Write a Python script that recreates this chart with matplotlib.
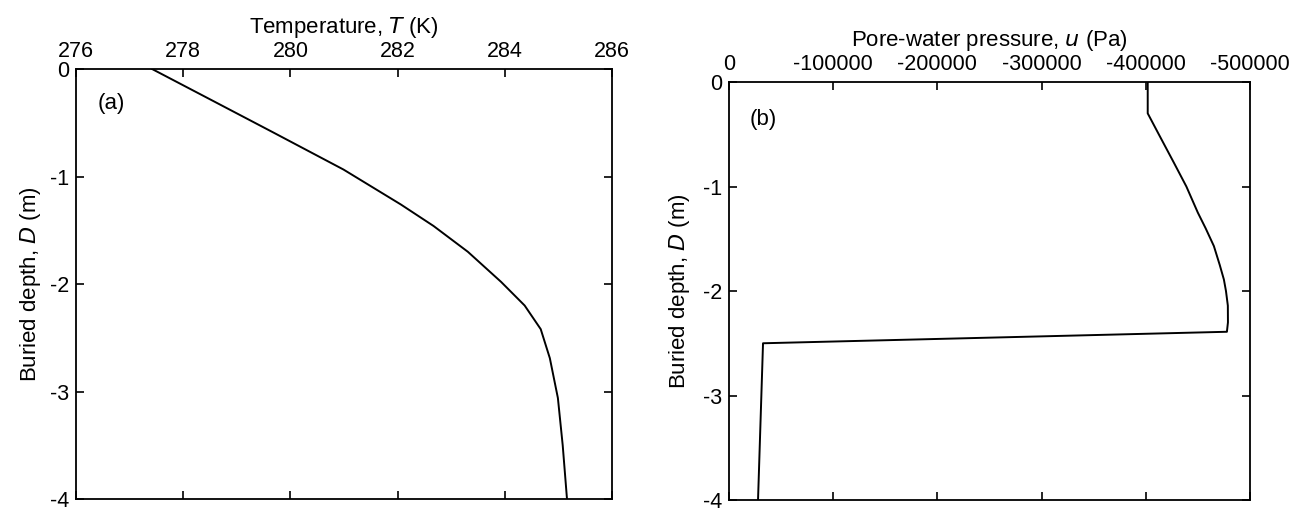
import numpy as np
import matplotlib.pyplot as plt
from matplotlib.ticker import FuncFormatter

plt.rcParams['font.family'] = ['Liberation Sans', 'DejaVu Sans']
plt.rcParams['axes.unicode_minus'] = False

# ---- data ----
# (a) temperature profile
depth_a = [0.0, -0.30, -0.59, -0.935, -1.26, -1.46, -1.70, -1.98, -2.20, -2.42,
           -2.69, -3.06, -3.5, -4.0]
temp_a = [277.42, 278.57, 279.68, 280.99, 282.06, 282.67, 283.31, 283.93, 284.37, 284.67,
          284.84, 284.99, 285.08, 285.16]

# (b) pore-water pressure profile
depth_b = [0.0, -0.30, -0.50, -0.77, -1.0, -1.25, -1.4, -1.57, -1.75, -1.89, -2.0,
           -2.14, -2.3, -2.39, -2.50, -4.0]
press_b = [-401900, -401900, -412500, -426900, -439000, -450000, -457500, -465400,
           -471000, -475000, -477000, -478800, -478900, -477900, -32700, -27900]

temp_ticks = [276, 278, 280, 282, 284, 286]
press_ticks = [0, -100000, -200000, -300000, -400000, -500000]
depth_ticks = [0, -1, -2, -3, -4]

fig = plt.figure(figsize=(12.95, 5.11), dpi=100)
ax_a = fig.add_axes([0.0587, 0.0235, 0.4139, 0.8414])
ax_b = fig.add_axes([0.5629, 0.0215, 0.4023, 0.8180])


def style(ax):
    for sp in ax.spines.values():
        sp.set_linewidth(1.3)
    ax.tick_params(direction='in', length=6, width=1.2, top=True, right=True,
                   bottom=True, left=True, labeltop=True, labelbottom=False,
                   labelsize=15.5, pad=5)
    ax.xaxis.set_label_position('top')
    ax.set_yticks(depth_ticks)
    ax.set_ylim(-4, 0)
    ax.yaxis.set_major_formatter(FuncFormatter(lambda v, p: f"{v:g}"))


ax_a.plot(temp_a, depth_a, color='black', lw=1.4)
style(ax_a)
ax_a.set_xlim(276, 286)
ax_a.set_xticks(temp_ticks)
ax_a.set_xlabel('Temperature, $\\mathit{T}$ (K)', fontsize=16, labelpad=6)
ax_a.set_ylabel('Buried depth, $\\mathit{D}$ (m)', fontsize=16, labelpad=5)
ax_a.text(0.04, 0.92, '(a)', transform=ax_a.transAxes, fontsize=16, va='center')

ax_b.plot(press_b, depth_b, color='black', lw=1.4)
style(ax_b)
ax_b.set_xlim(0, -500000)
ax_b.set_xticks(press_ticks)
ax_b.xaxis.set_major_formatter(FuncFormatter(lambda v, p: f"{int(v)}"))
ax_b.set_xlabel('Pore-water pressure, $\\mathit{u}$ (Pa)', fontsize=16, labelpad=6)
ax_b.set_ylabel('Buried depth, $\\mathit{D}$ (m)', fontsize=16, labelpad=8)
ax_b.text(0.04, 0.91, '(b)', transform=ax_b.transAxes, fontsize=16, va='center')

fig.savefig('out.png', dpi=100)
